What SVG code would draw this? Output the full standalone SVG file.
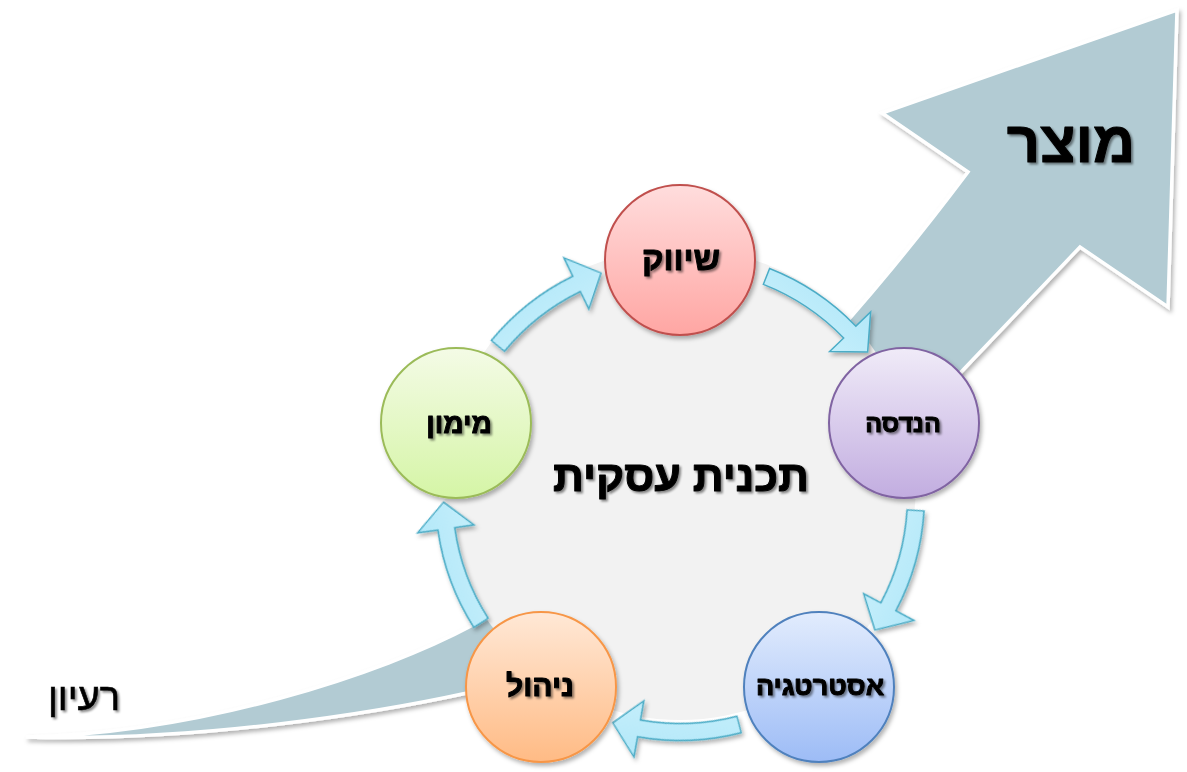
<svg xmlns="http://www.w3.org/2000/svg" xmlns:xlink="http://www.w3.org/1999/xlink" width="1187" height="772" viewBox="0 0 1187 772">
<defs>
<style>
.lbl{font-family:"Liberation Sans","DejaVu Sans",sans-serif;font-weight:bold;fill:#000;stroke:#000;stroke-width:1;stroke-linejoin:round;text-anchor:middle}
.node circle{stroke-width:2}
.cyc{stroke:#4bacc6;stroke-width:1.5;stroke-linejoin:miter;fill:url(#gCyan)}
</style>
<filter id="sh" x="-10%" y="-10%" width="130%" height="130%">
<feDropShadow dx="2" dy="3" stdDeviation="2" flood-color="#000" flood-opacity="0.3"/>
</filter>
<filter id="tsh" x="-10%" y="-20%" width="130%" height="150%">
<feDropShadow dx="2" dy="2" stdDeviation="1.2" flood-color="#000" flood-opacity="0.45"/>
</filter>
<linearGradient id="gCyan" x1="0" y1="0" x2="1" y2="1">
<stop offset="0" stop-color="#d0f3fd"/><stop offset="1" stop-color="#a9e4f7"/>
</linearGradient>
<linearGradient id="gRed" x1="0" y1="0" x2="0" y2="1"><stop offset="0" stop-color="#ffdddd"/><stop offset="1" stop-color="#ffa6a3"/></linearGradient>
<linearGradient id="gPurple" x1="0" y1="0" x2="0" y2="1"><stop offset="0" stop-color="#f0ebf8"/><stop offset="1" stop-color="#c2ade0"/></linearGradient>
<linearGradient id="gBlue" x1="0" y1="0" x2="0" y2="1"><stop offset="0" stop-color="#e2ecfd"/><stop offset="1" stop-color="#9dbcf6"/></linearGradient>
<linearGradient id="gOrange" x1="0" y1="0" x2="0" y2="1"><stop offset="0" stop-color="#ffe8d6"/><stop offset="1" stop-color="#ffbb85"/></linearGradient>
<linearGradient id="gGreen" x1="0" y1="0" x2="0" y2="1"><stop offset="0" stop-color="#f4fbe6"/><stop offset="1" stop-color="#d5f5a6"/></linearGradient>
<path id="cyc" class="cyc" d="M907.49,585.61 A244.5,244.5 0 0 1 849.84,671.88 L864.08,686.63 L823.97,683.63 L824.49,645.62 L838.04,659.65 A227.5,227.5 0 0 0 891.67,579.38 Z"/>
</defs>
<rect width="1187" height="772" fill="#fff"/>
<g id="big-arrow" filter="url(#sh)">
<path d="M26,737 C200,733 380,675 473,625 C659,525 801,394 968,172 L882,113 L1177,10 L1168,307 L1080,247 L963,370 C880,460 700,620 467,693 C380,712 200,742 26,737 Z" fill="#b2cbd3" stroke="#fff" stroke-width="3.5" stroke-linejoin="miter"/>
</g>
<g id="plan-bg">
<circle cx="680" cy="484" r="236" fill="#f2f2f2"/>
</g>
<g id="connectors" filter="url(#sh)">
<use xlink:href="#cyc" transform="rotate(-90 680 496)"/>
<use xlink:href="#cyc" transform="rotate(-18 680 496)"/>
<use xlink:href="#cyc" transform="rotate(54 680 496)"/>
<use xlink:href="#cyc" transform="rotate(126 680 496)"/>
<use xlink:href="#cyc" transform="rotate(198 680 496)"/>
</g>
<g id="node-marketing" class="node">
<circle cx="680" cy="260" r="75" fill="url(#gRed)" stroke="#c0504d" filter="url(#sh)"/>
<text class="lbl" x="681" y="270" font-size="33" filter="url(#tsh)">שיווק</text>
</g>
<g id="node-engineering" class="node">
<circle cx="904" cy="423" r="75" fill="url(#gPurple)" stroke="#8064a2" filter="url(#sh)"/>
<text class="lbl" x="903" y="432" font-size="25" filter="url(#tsh)">הנדסה</text>
</g>
<g id="node-strategy" class="node">
<circle cx="819" cy="687" r="75" fill="url(#gBlue)" stroke="#4f81bd" filter="url(#sh)"/>
<text class="lbl" x="820" y="695" font-size="27" filter="url(#tsh)">אסטרטגיה</text>
</g>
<g id="node-management" class="node">
<circle cx="541" cy="687" r="75" fill="url(#gOrange)" stroke="#f79646" filter="url(#sh)"/>
<text class="lbl" x="540" y="696" font-size="30" filter="url(#tsh)">ניהול</text>
</g>
<g id="node-finance" class="node">
<circle cx="456" cy="423" r="75" fill="url(#gGreen)" stroke="#9bbb59" filter="url(#sh)"/>
<text class="lbl" x="459" y="433" font-size="28" filter="url(#tsh)">מימון</text>
</g>
<g id="titles">
<text class="lbl" x="681" y="491" font-size="43" filter="url(#tsh)">תכנית עסקית</text>
<text class="lbl" x="1071" y="162" font-size="58" filter="url(#tsh)">מוצר</text>
<text x="84" y="710" font-size="38" font-family="Liberation Sans, DejaVu Sans, sans-serif" text-anchor="middle" fill="#000" stroke="#000" stroke-width="0.6" filter="url(#tsh)">רעיון</text>
</g>
</svg>
